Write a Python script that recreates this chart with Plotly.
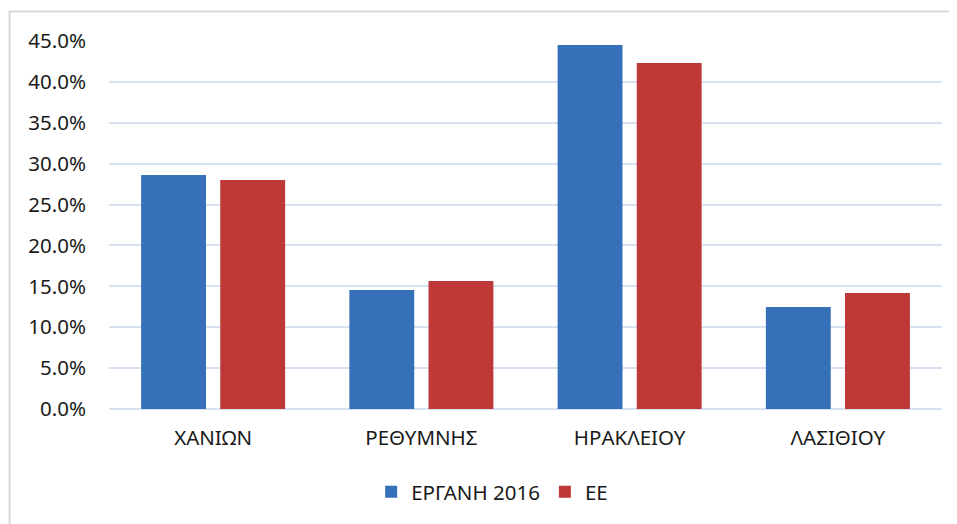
import plotly.graph_objects as go

categories = ["ΧΑΝΙΩΝ", "ΡΕΘΥΜΝΗΣ", "ΗΡΑΚΛΕΙΟΥ", "ΛΑΣΙΘΙΟΥ"]
ergani_2016 = [0.286, 0.1455, 0.445, 0.1247]
ee = [0.280, 0.1565, 0.423, 0.1418]
y_ticks = [0.0, 0.05, 0.10, 0.15, 0.20, 0.25, 0.30, 0.35, 0.40, 0.45]

FONT = "Noto Sans, Open Sans, sans-serif"

fig = go.Figure()
fig.add_trace(
    go.Bar(
        x=categories,
        y=ergani_2016,
        name="ΕΡΓΑΝΗ 2016",
        marker=dict(color="#3670b8", line=dict(width=0)),
    )
)
fig.add_trace(
    go.Bar(
        x=categories,
        y=ee,
        name="ΕΕ",
        marker=dict(color="#bd3836", line=dict(width=0)),
    )
)

# light grey chart frame (only top and left edges show in the reference)
fig.add_shape(
    type="rect",
    xref="paper",
    yref="paper",
    x0=-0.1194,
    x1=1.05,
    y0=-0.36,
    y1=1.0802,
    line=dict(color="#d9d9d9", width=2),
    layer="below",
)

# the page body adds an 8px offset, so margins are shifted to compensate
fig.update_layout(
    width=957,
    height=524,
    margin=dict(l=101, r=23, t=33, b=123),
    paper_bgcolor="white",
    plot_bgcolor="white",
    barmode="group",
    bargap=0.24,
    bargroupgap=0.18,
    font=dict(family=FONT, size=20.5, color="#1a1a1a"),
    showlegend=True,
    legend=dict(
        orientation="h",
        x=0.46,
        xanchor="center",
        y=-0.2255,
        yanchor="middle",
        font=dict(size=20.5),
        itemwidth=30,
    ),
)
fig.update_yaxes(
    range=[0, 0.45],
    tickvals=y_ticks,
    tickformat=".1%",
    showgrid=True,
    gridcolor="#d6e1f1",
    gridwidth=1.5,
    zeroline=True,
    zerolinecolor="#d6e1f1",
    zerolinewidth=1.5,
    showline=False,
    ticks="",
    ticklabelstandoff=22,
)
fig.update_xaxes(
    showgrid=False,
    showline=False,
    ticks="",
    ticklabelstandoff=14,
)

fig.write_html("out.html")
